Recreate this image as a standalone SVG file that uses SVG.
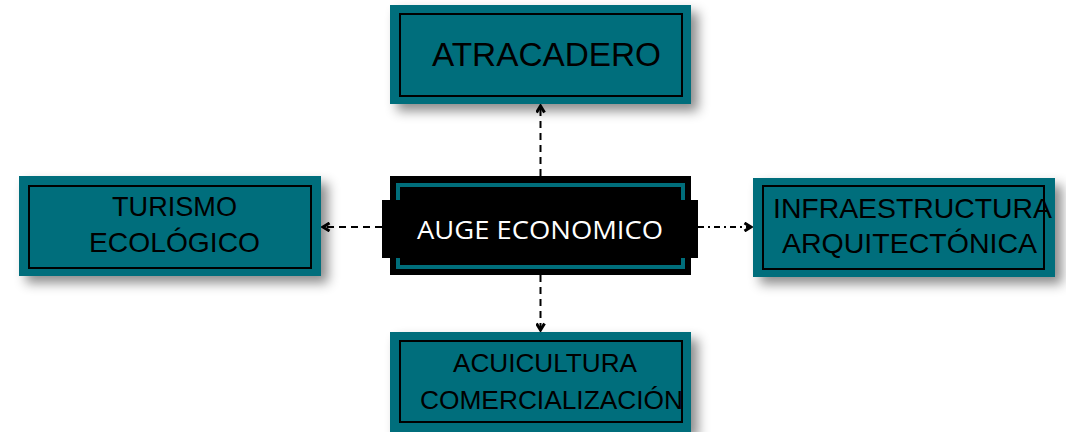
<svg xmlns="http://www.w3.org/2000/svg" width="1066" height="432" viewBox="0 0 1066 432">
<defs>
<filter id="sh" x="-20%" y="-30%" width="150%" height="170%">
<feDropShadow dx="7" dy="7" stdDeviation="6" flood-color="#000" flood-opacity="0.45"/>
</filter>
<marker id="ah" viewBox="0 0 10 10" refX="8" refY="5" markerWidth="10" markerHeight="10" markerUnits="userSpaceOnUse" orient="auto">
<path d="M1.5,1 L8,5 L1.5,9" fill="none" stroke="#000" stroke-width="3"/>
</marker>
<style>
.box{fill:#006e7b;filter:url(#sh)}
.in{fill:none;stroke:#000;stroke-width:2}
.t{font-family:"Liberation Sans",Arial,sans-serif;fill:#000;text-anchor:start}
.c{stroke:#000;stroke-width:2;fill:none;marker-end:url(#ah)}
</style>
</defs>
<rect width="1066" height="432" fill="#fff"/>
<g id="atracadero">
<rect class="box" x="390" y="5" width="301" height="99"/>
<rect class="in" x="400" y="14" width="282" height="82"/>
<text class="t" x="432" y="66" font-size="33" textLength="229" lengthAdjust="spacingAndGlyphs">ATRACADERO</text>
</g>
<g id="turismo">
<rect class="box" x="19" y="176" width="302" height="100"/>
<rect class="in" x="29" y="186" width="282" height="82"/>
<text class="t" x="112" y="216" font-size="28" textLength="125" lengthAdjust="spacingAndGlyphs">TURISMO</text>
<text class="t" x="89" y="252" font-size="28" textLength="171" lengthAdjust="spacingAndGlyphs">ECOLÓGICO</text>
</g>
<g id="infraestructura">
<rect class="box" x="753" y="178" width="302" height="99"/>
<rect class="in" x="763" y="186" width="281" height="83"/>
<text class="t" x="773" y="218" font-size="28" textLength="279" lengthAdjust="spacingAndGlyphs">INFRAESTRUCTURA</text>
<text class="t" x="782" y="253" font-size="28" textLength="255" lengthAdjust="spacingAndGlyphs">ARQUITECTÓNICA</text>
</g>
<g id="acuicultura">
<rect class="box" x="390" y="332" width="301" height="100"/>
<rect class="in" x="400" y="341" width="282" height="81"/>
<text class="t" x="453" y="372" font-size="26" textLength="184" lengthAdjust="spacingAndGlyphs">ACUICULTURA</text>
<text class="t" x="420" y="409" font-size="26" textLength="263" lengthAdjust="spacingAndGlyphs">COMERCIALIZACIÓN</text>
</g>
<g id="connectors">
<line class="c" x1="540.5" y1="176" x2="540.5" y2="106" stroke-dasharray="7,5"/>
<line class="c" x1="540.5" y1="275" x2="540.5" y2="330" stroke-dasharray="7,5"/>
<line class="c" x1="382" y1="227" x2="323" y2="227" stroke-dasharray="7,5"/>
<line class="c" x1="698" y1="227" x2="751" y2="227" stroke-dasharray="6,4,2,4"/>
</g>
<g id="auge">
<rect x="390" y="176" width="301" height="99" fill="#000"/>
<rect x="382" y="200" width="316" height="58" fill="#000"/>
<path d="M398,200 V185 H683 V200 M398,258 V267 H683 V258" fill="none" stroke="#006e7b" stroke-width="4"/>
<text x="540" y="239" font-family="'Open Sans','Noto Sans',sans-serif" font-size="26" fill="#fff" text-anchor="middle" textLength="246" lengthAdjust="spacingAndGlyphs">AUGE ECONOMICO</text>
</g>
</svg>
